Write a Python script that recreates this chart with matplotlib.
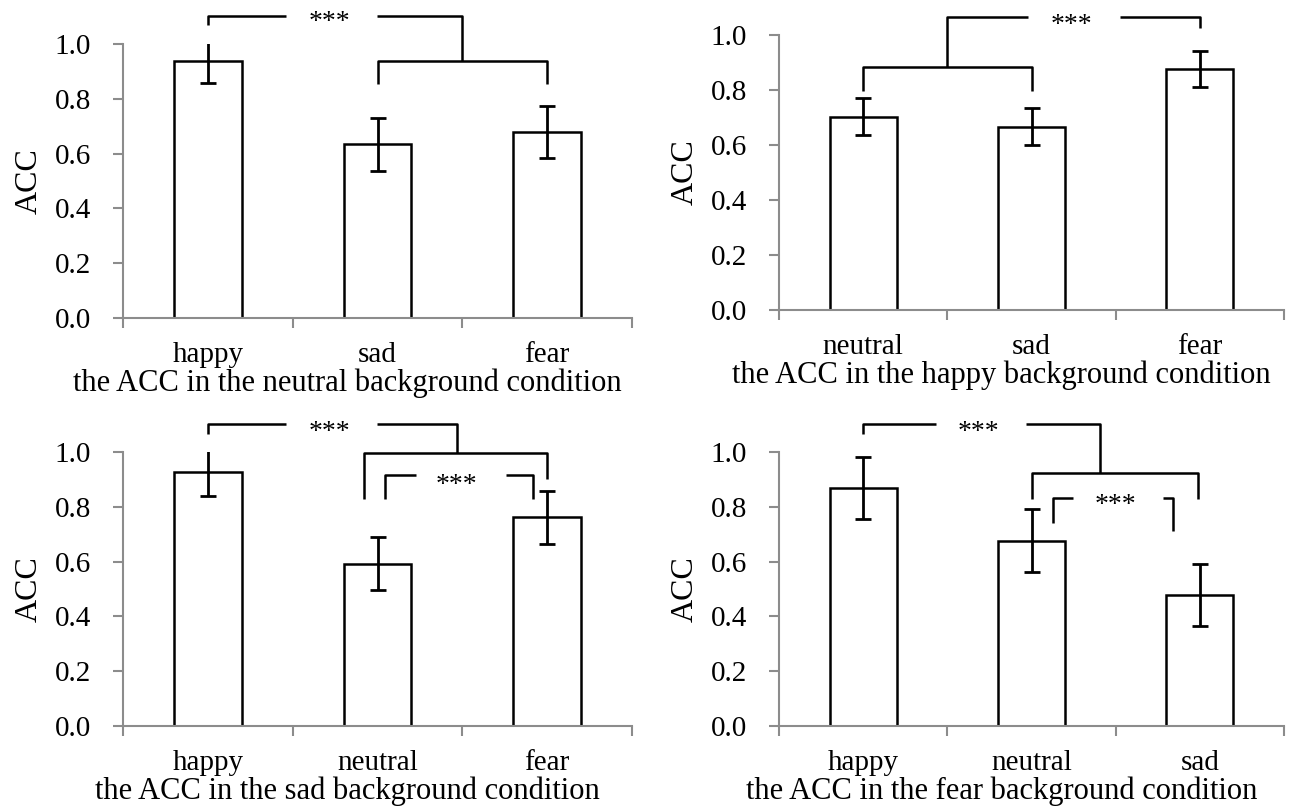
import matplotlib
matplotlib.use("Agg")
from matplotlib import pyplot as plt
import numpy as np

plt.rcParams['font.family'] = ['Liberation Serif', 'DejaVu Serif']

# ACC means and error bars for each background condition
neutral_cats = ['happy', 'sad', 'fear']
neutral_acc = [0.938, 0.634, 0.680]
neutral_err = [0.080, 0.097, 0.095]

happy_cats = ['neutral', 'sad', 'fear']
happy_acc = [0.703, 0.667, 0.876]
happy_err = [0.067, 0.066, 0.065]

sad_cats = ['happy', 'neutral', 'fear']
sad_acc = [0.928, 0.592, 0.761]
sad_err = [0.088, 0.097, 0.097]

fear_cats = ['happy', 'neutral', 'sad']
fear_acc = [0.868, 0.677, 0.479]
fear_err = [0.112, 0.114, 0.113]

titles = ['the ACC in the neutral background condition',
          'the ACC in the happy background condition',
          'the ACC in the sad background condition',
          'the ACC in the fear background condition']

# significance brackets: (x1, x2, y, left end, right end, gap or None, star pos or None)
neutral_brackets = [
    (0, 1.5, 1.102, 1.07, 0.938, (0.458, 0.996), (0.716, 1.080)),
    (1, 2, 0.938, 0.854, 0.854, None, None),
]
happy_brackets = [
    (0, 1, 0.885, 0.797, 0.797, None, None),
    (0.5, 2, 1.064, 0.885, 1.024, (0.98, 1.525), (1.235, 1.036)),
]
sad_brackets = [
    (0, 1.47, 1.102, 1.066, 0.996, (0.458, 0.996), (0.716, 1.070)),
    (0.92, 2.0, 0.996, 0.829, 0.902, None, None),
    (1.047, 1.919, 0.917, 0.829, 0.829, (1.227, 1.755), (1.465, 0.878)),
]
fear_brackets = [
    (0, 1.406, 1.102, 1.066, 0.923, (0.433, 0.965), (0.686, 1.070)),
    (1.004, 1.99, 0.923, 0.829, 0.829, None, None),
    (1.126, 1.84, 0.832, 0.741, 0.712, (1.245, 1.78), (1.498, 0.804)),
]

panels = [
    (neutral_cats, neutral_acc, neutral_err, neutral_brackets),
    (happy_cats, happy_acc, happy_err, happy_brackets),
    (sad_cats, sad_acc, sad_err, sad_brackets),
    (fear_cats, fear_acc, fear_err, fear_brackets),
]

W, H = 1305, 809
# axes boxes in pixels: left, right, top, bottom
boxes = [(123, 632, 44, 318), (779, 1284, 35, 310),
         (123, 632, 452, 726), (779, 1284, 452, 726)]

fig = plt.figure(figsize=(W / 100, H / 100), dpi=100)
axis_grey = '#8c8c8c'


def bracket(ax, x1, x2, y, e1, e2, gap, star):
    kw = dict(color='black', lw=1.8, clip_on=False, solid_capstyle='butt')
    if gap is None:
        ax.plot([x1, x1, x2, x2], [e1, y, y, e2], **kw)
    else:
        ax.plot([x1, x1, gap[0]], [e1, y, y], **kw)
        ax.plot([gap[1], x2, x2], [y, y, e2], **kw)
    if star is not None:
        ax.text(star[0], star[1], '***', ha='center', va='center',
                fontsize=20, clip_on=False)


for i, (cats, acc, err, brs) in enumerate(panels):
    l, r, t, b = boxes[i]
    ax = fig.add_axes([l / W, 1 - b / H, (r - l) / W, (b - t) / H])
    x = np.arange(len(cats))
    ax.bar(x, acc, width=0.4, color='white', edgecolor='black', linewidth=1.8)
    ax.errorbar(x, acc, yerr=err, fmt='none', ecolor='black', elinewidth=2,
                capsize=6, capthick=2)
    ax.set_xlim(-0.5, 2.5)
    ax.set_ylim(0, 1.0)
    ax.set_yticks(np.arange(0, 1.01, 0.2))
    ax.set_yticklabels([f'{v:.1f}' for v in np.arange(0, 1.01, 0.2)])
    # ticks at the category borders, names under the bars
    ax.set_xticks([-0.5, 0.5, 1.5, 2.5])
    ax.set_xticklabels([])
    ax.set_xticks(x, minor=True)
    ax.set_xticklabels(cats, minor=True)
    ax.tick_params(axis='x', which='major', direction='out', length=7,
                   width=1.5, color=axis_grey)
    ax.tick_params(axis='x', which='minor', length=0, pad=17, labelsize=21)
    ax.tick_params(axis='y', direction='out', length=7, width=1.5,
                   color=axis_grey, labelsize=21, pad=16)
    for s in ['top', 'right']:
        ax.spines[s].set_visible(False)
    for s in ['left', 'bottom']:
        ax.spines[s].set_color(axis_grey)
        ax.spines[s].set_linewidth(1.5)
    ax.set_ylabel('ACC', fontsize=23, labelpad=8)
    ax.set_xlabel(titles[i], fontsize=22, labelpad=0.5)
    ax.xaxis.label.set_x(0.44)
    for br in brs:
        bracket(ax, *br)

fig.savefig('out.png', dpi=100)
